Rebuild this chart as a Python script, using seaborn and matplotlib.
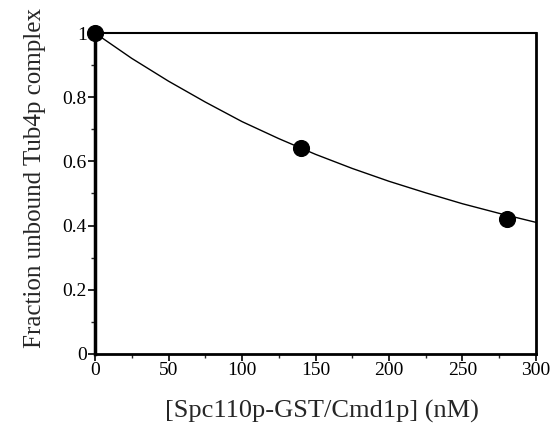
import numpy as np
import pandas as pd
import matplotlib
matplotlib.use("Agg")
import matplotlib.pyplot as plt
import seaborn as sns
from matplotlib.ticker import MultipleLocator, FormatStrFormatter

sns.set_style("ticks")
plt.rcParams["font.family"] = ["Liberation Serif", "DejaVu Serif"]

# measured points
conc = [0, 140, 280]
frac_unbound = [1.0, 0.642, 0.42]

# fitted curve
fit_conc = [0, 25, 50, 75, 100, 125, 150, 175, 200, 225, 250, 275, 300]
fit_frac = [1.0, 0.921, 0.850, 0.785, 0.724, 0.671, 0.622, 0.578, 0.538, 0.502, 0.468, 0.438, 0.410]

pts = pd.DataFrame({"conc": conc, "frac": frac_unbound})
fit = pd.DataFrame({"conc": fit_conc, "frac": fit_frac})

fig = plt.figure(figsize=(5.54, 4.29), dpi=100)
ax = fig.add_axes([0.1715, 0.175, 0.796, 0.748])

sns.lineplot(data=fit, x="conc", y="frac", ax=ax, color="black", linewidth=1.0)
sns.scatterplot(data=pts, x="conc", y="frac", ax=ax, color="black", s=130,
                marker="o", edgecolor="black", clip_on=False, zorder=5)

ax.set_xlim(0, 300)
ax.set_ylim(0, 1)
ax.xaxis.set_major_locator(MultipleLocator(50))
ax.xaxis.set_minor_locator(MultipleLocator(25))
ax.yaxis.set_major_locator(MultipleLocator(0.2))
ax.yaxis.set_minor_locator(MultipleLocator(0.1))
ax.yaxis.set_major_formatter(FormatStrFormatter("%g"))

ax.tick_params(which="major", length=5, width=1.2, labelsize=14, pad=1, colors="black")
ax.tick_params(which="minor", length=3, width=1.0)

ax.spines["left"].set_linewidth(2.5)
ax.spines["bottom"].set_linewidth(2.0)
ax.spines["right"].set_linewidth(2.0)
ax.spines["top"].set_linewidth(1.5)
for s in ax.spines.values():
    s.set_color("black")

ax.set_xlabel("[Spc110p-GST/Cmd1p] (nM)", fontsize=19, labelpad=15, x=0.514)
ax.set_ylabel("Fraction unbound Tub4p complex", fontsize=18, labelpad=12, y=0.548)

fig.savefig("out.png", dpi=100, facecolor="white")
